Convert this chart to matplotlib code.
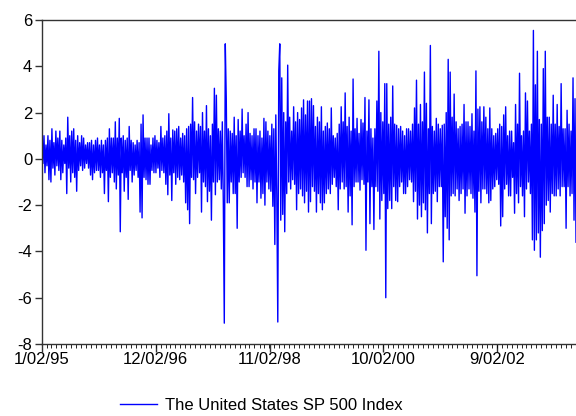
import matplotlib
matplotlib.use("Agg")
import matplotlib.pyplot as plt
import matplotlib.dates as mdates
import matplotlib.transforms as mtransforms
import numpy as np
import pandas as pd

# daily % returns in time order (upper / lower swings)
part1 = [0.4, -0.2, 1.0, -0.6, 0.6, -0.3, 1.0, -0.9, 0.8, -1.0, 1.3, -0.4, 0.7, -0.7, 1.2, -0.3,
         0.9, -0.5, 1.2, -0.9, 0.8, -0.6, 0.6, -0.2, 0.9, -1.5, 1.8, -0.4, 1.0, -1.0, 1.2, -0.6,
         1.3, -0.8, 0.8, -1.4, 1.0, -0.5, 0.7, -0.3, 1.0, -0.5, 0.9, -0.4, 0.6, -0.2, 0.7, -0.4,
         0.7, -0.7, 0.8, -0.9, 0.6, -0.6, 0.8, -0.5, 0.9, -0.5, 0.6, -0.8, 0.8, -0.6, 0.6, -1.5,
         0.8, -0.5]
part2 = [0.9, -1.85, 1.3, -0.8, 0.9, -0.6, 0.9, -1.0, 1.6, -1.3, 0.9, -0.7, 1.75, -3.15, 0.9, -0.6,
         1.0, -1.4, 0.8, -0.8, 0.9, -1.75, 1.4, -0.5, 0.8, -1.0, 0.7, -0.7, 0.6, -0.5, 0.8, -0.8,
         0.7, -2.3, 1.5, -2.55, 1.9, -0.8, 0.9, -0.9, 0.9, -1.1, 0.9, -1.1, 0.6, -0.5, 0.9, -0.6,
         1.0, -0.6, 0.8, -0.4, 0.7, -0.8, 1.4, -0.5, 0.9, -0.6, 1.0, -1.1, 1.2, -1.55, 1.95, -0.7,
         0.9, -1.8, 1.25, -0.6]
part3 = [1.2, -1.1, 1.3, -0.8, 1.4, -0.9, 0.9, -0.7, 1.1, -1.0, 1.0, -1.9, 1.3, -2.2, 1.4, -2.8,
         1.5, -0.8, 2.65, -0.9, 1.6, -1.5, 1.2, -0.8, 1.5, -0.6, 1.4, -2.3, 2.0, -1.0, 1.2, -1.2,
         2.3, -1.85, 1.3, -1.4, 1.0, -2.65, 1.5, -1.0, 3.05, -1.55, 2.75, -1.0, 1.3, -0.9, 1.2, -1.3,
         1.6, -1.85, -7.1, 4.97, 2.6, -1.9, 1.3, -1.9, 1.2, -1.0, 1.1, -1.5, 1.8, -1.5, 1.0, -3.0,
         1.7, -1.0, 1.2, -0.8]
part4 = [2.15, -0.6, 1.0, -0.8, 1.5, -1.2, 2.0, -1.2, 1.1, -0.9, 1.0, -1.3, 1.3, -1.0, 1.3, -1.9,
         1.0, -1.0, 1.2, -1.7, 0.9, -1.5, 1.75, -2.0, 1.6, -1.0, 1.2, -1.3, 1.0, -1.4, 1.5, -2.05,
         1.3, -3.7, 1.9, -1.6, -7.05, 3.8, 4.97, -2.65, 3.5, -2.4, 2.0, -3.15, 1.6, -1.5, 4.05, -1.0,
         1.8, -1.3, 1.2, -0.9, 2.25, -1.1, 1.6, -2.2, 2.0, -1.5, 1.7, -1.3, 2.2, -1.6, 2.55, -1.9,
         1.9, -1.4, 2.5, -2.3]
part5 = [2.5, -1.85, 2.6, -1.2, 2.3, -1.4, 1.4, -2.3, 1.8, -1.5, 1.6, -1.9, 2.25, -2.2, 1.2, -1.9,
         1.4, -1.5, 1.55, -1.3, 1.3, -1.5, 2.2, -1.1, 1.0, -0.8, 0.9, -1.2, 1.1, -2.2, 1.5, -1.3,
         2.25, -1.0, 1.6, -1.3, 2.85, -1.2, 1.4, -2.3, 1.8, -1.6, 1.2, -2.85, 3.45, -1.2, 1.3, -1.0,
         1.75, -1.0, 1.1, -1.35, 1.7, -0.9, 1.55, -1.1, 2.65, -3.95, 1.2, -1.0, 2.55, -2.8, 1.3, -1.2,
         0.9, -3.05, 1.3, -1.2]
part6 = [2.5, -1.4, 4.65, -2.6, 2.0, -1.8, 1.6, -1.5, 3.25, -6.0, 3.25, -2.15, 1.5, -1.8, 1.8, -2.15,
         3.15, -1.2, 1.5, -1.8, 1.45, -1.85, 1.3, -1.2, 1.4, -1.0, 1.2, -1.5, 1.0, -1.5, 1.3, -1.2,
         1.3, -0.9, 1.2, -1.0, 1.5, -1.85, 2.2, -1.4, 3.4, -2.6, 1.5, -2.0, 2.35, -2.5, 1.6, -1.9,
         3.75, -2.2, 2.4, -3.2, 1.3, -1.5, 4.9, -2.8, 1.4, -1.5, 1.2, -1.4, 1.75, -1.85, 1.5, -1.2,
         1.3, -1.2, 1.45, -4.45]
part7 = [1.5, -2.5, 2.0, -3.0, 4.3, -3.5, 3.75, -1.6, 1.8, -1.5, 2.8, -1.6, 1.6, -1.3, 1.3, -1.8,
         1.4, -1.5, 1.5, -1.3, 2.35, -2.35, 1.6, -1.6, 1.6, -1.3, 1.4, -1.5, 1.95, -1.7, 1.2, -2.3,
         3.8, -5.05, 2.15, -1.4, 2.25, -1.9, 1.6, -1.3, 2.25, -1.3, 1.8, -1.5, 1.3, -1.9, 2.2, -1.8,
         1.3, -1.3, 1.0, -1.2, 1.1, -0.9, 1.3, -1.1, 1.5, -2.9, 1.4, -2.5, 1.9, -1.3, 2.25, -1.1,
         1.0, -1.6, 1.2, -1.6]
part8 = [1.2, -0.8, 0.7, -2.35, 2.35, -1.5, 1.5, -1.9, 3.7, -1.2, 1.0, -1.6, 1.2, -2.5, 2.85, -1.3,
         2.5, -1.0, 1.2, -1.5, 1.5, -3.5, 5.55, -3.95, 3.2, -3.5, 4.65, -3.2, 1.7, -4.25, 1.5, -3.1,
         3.9, -2.8, 4.65, -2.0, 1.8, -1.8, 1.8, -2.3, 1.5, -1.5, 2.75, -1.6, 1.5, -1.6, 2.35, -1.3,
         1.4, -1.6, 3.25, -1.2, 1.3, -1.2, 1.3, -3.0, 2.1, -1.2, 1.5, -1.6, 1.2, -1.5, 3.5, -2.65,
         2.6, -3.6]

returns = np.array(part1 + part2 + part3 + part4 + part5 + part6 + part7 + part8)
start, end = "1995-01-02", "2003-12-31"
tick_dates = ["1995-01-02", "1996-12-02", "1998-11-02", "2000-10-02", "2002-09-02"]
tick_labels = ["1/02/95", "12/02/96", "11/02/98", "10/02/00", "9/02/02"]
series_name = "The United States SP 500 Index"

plt.rcParams["font.family"] = ["Liberation Sans", "DejaVu Sans"]
plt.rcParams["axes.unicode_minus"] = False
dates = pd.date_range(start, end, periods=len(returns))

fig = plt.figure(figsize=(5.76, 4.16), dpi=100)
ax = fig.add_axes([42 / 576, 72 / 416, 1 - 42 / 576, 324 / 416])
ax.plot(dates, returns, color="#0000ff", lw=1.0, label=series_name)

ax.set_ylim(-8, 6)
ax.set_yticks(np.arange(-8, 7, 2))
ax.set_xlim(pd.Timestamp(start), pd.Timestamp(end))
ax.set_xticks(pd.to_datetime(tick_dates))
ax.set_xticklabels(tick_labels)
ax.xaxis.set_minor_locator(mdates.MonthLocator())

# EViews puts the date labels a little left of the tick
shift = mtransforms.ScaledTranslation(-9 / 100, 0, fig.dpi_scale_trans)
for lbl in ax.get_xticklabels():
    lbl.set_transform(lbl.get_transform() + shift)

for s in ["left", "bottom", "top"]:
    ax.spines[s].set_color("#333333")
    ax.spines[s].set_linewidth(1)
ax.spines["right"].set_visible(False)
ax.tick_params(axis="both", labelsize=12, color="#333333", width=1)
ax.tick_params(axis="y", length=5, pad=2)
ax.tick_params(axis="x", which="major", length=6, pad=0)
ax.tick_params(axis="x", which="minor", length=3)

fig.legend(loc="center left", bbox_to_anchor=(120 / 576, 1 - 405 / 416), frameon=False,
           fontsize=12, handlelength=2.2, handletextpad=0.5, borderpad=0, borderaxespad=0)

fig.savefig("out.png", dpi=100)
